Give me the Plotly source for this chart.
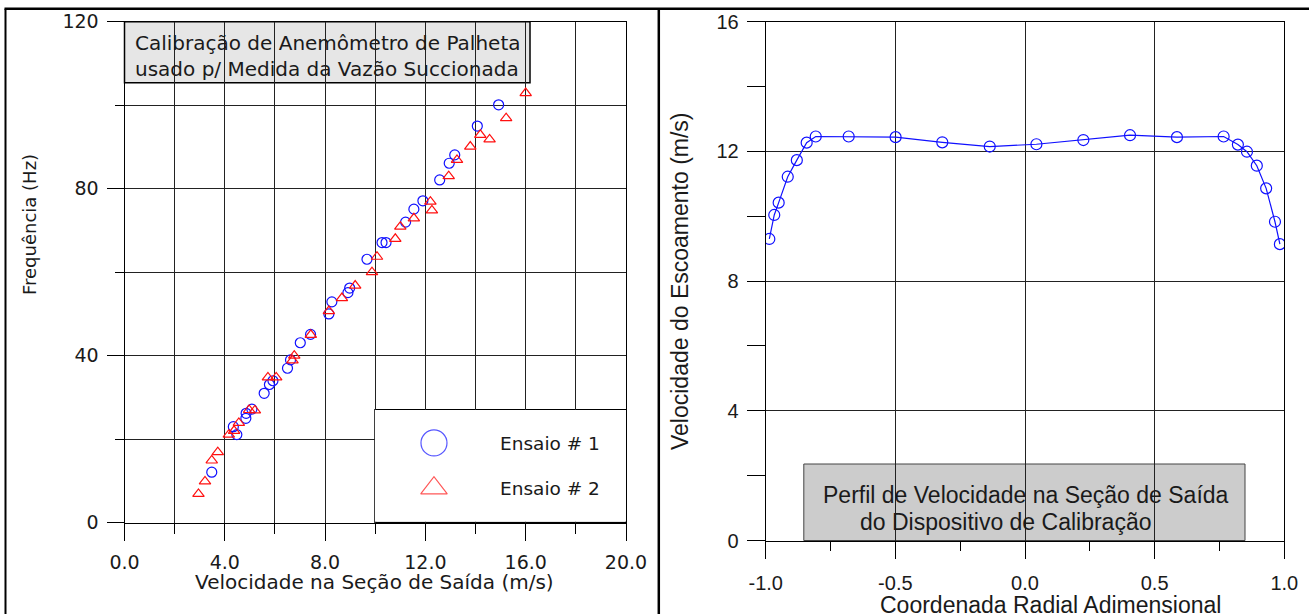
import plotly.graph_objects as go

# ---------------- data ----------------
# Left panel: calibration (Velocidade m/s -> Frequencia Hz)
ens1_vel = [3.48, 4.34, 4.48, 4.84, 4.85, 5.08, 5.57, 5.78, 5.92, 6.50, 6.62, 7.01, 7.42,
            8.15, 8.27, 8.91, 8.98, 9.67, 10.27, 10.43, 11.21, 11.54, 11.90, 12.57, 12.95,
            13.17, 14.07, 14.92]
ens1_freq = [12.1, 23.0, 21.1, 25.0, 26.2, 27.2, 31.0, 33.1, 34.0, 37.0, 39.0, 43.1, 45.1,
             50.0, 52.9, 55.1, 56.2, 63.1, 67.1, 67.1, 72.0, 75.1, 77.1, 82.1, 86.1,
             88.1, 95.0, 100.1]
ens2_vel = [2.95, 3.21, 3.48, 3.72, 4.16, 4.37, 4.56, 4.97, 5.20, 5.72, 6.05, 6.70, 6.77,
            7.43, 8.15, 8.67, 9.20, 9.87, 10.07, 10.80, 11.00, 11.54, 12.20, 12.26, 12.93,
            13.26, 13.79, 14.19, 14.56, 15.22, 16.00]
ens2_freq = [6.9, 9.9, 14.9, 16.9, 21.1, 22.0, 23.9, 27.0, 26.9, 34.8, 34.8, 38.9, 40.0,
             45.0, 50.7, 53.8, 56.8, 60.0, 63.7, 68.0, 70.9, 72.9, 76.9, 74.8, 83.0,
             86.9, 90.1, 92.9, 91.8, 96.9, 102.9]

# Right panel: velocity profile
radial = [-0.986, -0.967, -0.950, -0.915, -0.880, -0.842, -0.807, -0.680, -0.499, -0.319,
          -0.136, 0.044, 0.225, 0.405, 0.586, 0.766, 0.821, 0.856, 0.894, 0.930, 0.964, 0.983]
veloc = [9.30, 10.04, 10.42, 11.22, 11.73, 12.27, 12.46, 12.46, 12.44, 12.28,
         12.15, 12.22, 12.35, 12.50, 12.44, 12.46, 12.21, 11.99, 11.56, 10.86, 9.83, 9.14]

# Tick labels
left_x_ticks = [0, 4, 8, 12, 16, 20]
left_x_labels = ["0.0", "4.0", "8.0", "12.0", "16.0", "20.0"]
left_y_ticks = [0, 40, 80, 120]
left_y_labels = ["0", "40", "80", "120"]
right_x_ticks = [-1, -0.5, 0, 0.5, 1]
right_x_labels = ["-1.0", "-0.5", "0.0", "0.5", "1.0"]
right_x_minor = [-0.75, -0.25, 0.25, 0.75]
right_y_ticks = [0, 4, 8, 12, 16]
right_y_labels = ["0", "4", "8", "12", "16"]
right_y_minor = [2, 6, 10, 14]

legend_names = ["Ensaio # 1", "Ensaio # 2"]

# ---------------- layout geometry ----------------
W, H = 1309, 614
def px(x):
    return x / W
def py(y):
    return 1 - y / H

LF = "DejaVu Sans"
RF = "Liberation Sans"
TXT = "#1a1a1a"
BLUE = "#1010ff"
RED = "#ff1010"
GRID = "#222222"

L_dom_x = [px(124.5), px(626.0)]
L_dom_y = [py(522.7), py(21.7)]
R_dom_x = [px(765.7), px(1284.3)]
R_dom_y = [py(540.5), py(21.7)]

fig = go.Figure()

# left data
fig.add_trace(go.Scatter(x=ens1_vel, y=ens1_freq, mode="markers", xaxis="x", yaxis="y",
                         marker=dict(symbol="circle-open", size=10, color=BLUE, line=dict(width=1.2)),
                         showlegend=False))
fig.add_trace(go.Scatter(x=ens2_vel, y=ens2_freq, mode="markers", xaxis="x", yaxis="y",
                         marker=dict(symbol="triangle-up-open", size=10, color=RED, line=dict(width=1.2)),
                         showlegend=False))
# right data
fig.add_trace(go.Scatter(x=radial, y=veloc, mode="lines+markers", xaxis="x2", yaxis="y2",
                         line=dict(color=BLUE, width=1.2),
                         marker=dict(symbol="circle-open", size=11, color=BLUE, line=dict(width=1.2)),
                         showlegend=False))

# legend key glyphs (on an invisible overlay axis spanning the legend box)
fig.add_trace(go.Scatter(x=[0.235, 0.235], y=[0.705, 0.30], mode="markers", xaxis="x3", yaxis="y3",
                         marker=dict(symbol=["circle-open", "triangle-up-open"], size=[26, 23],
                                     color=[BLUE, RED], line=dict(width=1.2)),
                         showlegend=False, hoverinfo="skip"))

axis_common = dict(showline=True, linecolor="black", linewidth=1, mirror=True,
                   zeroline=False, showgrid=True, gridcolor=GRID, gridwidth=1,
                   ticks="outside", tickcolor="black", tickwidth=1, automargin=False)

fig.update_layout(
    template="none",
    width=W, height=H, autosize=False,
    margin=dict(l=0, r=0, t=0, b=0, pad=0, autoexpand=False),
    paper_bgcolor="white", plot_bgcolor="white",
    showlegend=False,
    xaxis=dict(domain=L_dom_x, anchor="y", range=[0, 20], tickmode="array",
               tickvals=left_x_ticks, ticktext=left_x_labels, ticklen=17,
               ticklabelstandoff=5,
               tickfont=dict(family=LF, size=19, color=TXT),
               minor=dict(dtick=2, tick0=0, ticklen=10, ticks="outside", tickcolor="black",
                          showgrid=True, gridcolor=GRID, gridwidth=1),
               **axis_common),
    yaxis=dict(domain=L_dom_y, anchor="x", range=[0, 120], tickmode="array",
               tickvals=left_y_ticks, ticktext=left_y_labels, ticklen=17,
               ticklabelstandoff=4,
               tickfont=dict(family=LF, size=19, color=TXT),
               minor=dict(dtick=20, tick0=0, ticklen=9, ticks="outside", tickcolor="black",
                          showgrid=True, gridcolor=GRID, gridwidth=1),
               **axis_common),
    xaxis2=dict(domain=R_dom_x, anchor="y2", range=[-1, 1], tickmode="array",
                tickvals=right_x_ticks, ticktext=right_x_labels, ticklen=17,
                ticklabelstandoff=7,
                tickfont=dict(family=RF, size=20, color=TXT),
                minor=dict(tickmode="array", tickvals=right_x_minor, ticklen=9, ticks="outside",
                           tickcolor="black", showgrid=False),
                **axis_common),
    yaxis2=dict(domain=R_dom_y, anchor="x2", range=[0, 16], tickmode="array",
                tickvals=right_y_ticks, ticktext=right_y_labels, ticklen=18,
                ticklabelstandoff=4,
                tickfont=dict(family=RF, size=20, color=TXT),
                minor=dict(tickmode="array", tickvals=right_y_minor, ticklen=18, ticks="outside",
                           tickcolor="black", showgrid=False),
                **axis_common),
    xaxis3=dict(domain=[px(375), px(626)], anchor="y3", range=[0, 1], visible=False,
                fixedrange=True, automargin=False),
    yaxis3=dict(domain=[py(521.7), py(410)], anchor="x3", range=[0, 1], visible=False,
                fixedrange=True, automargin=False),
)

shapes = []
# left title box
shapes.append(dict(type="rect", xref="x domain", yref="y domain", x0=0, x1=(530 - 124.5) / 501.5,
                   y0=(522.7 - 82.7) / 501.0, y1=1.0, layer="below",
                   fillcolor="#e6e6e6", line=dict(color="black", width=1.5)))
# legend box
shapes.append(dict(type="rect", xref="x domain", yref="y domain", x0=0.5, x1=1.0,
                   y0=0.0, y1=(522.7 - 410) / 501.0, layer="below",
                   fillcolor="#e6e6e6", line=dict(color="black", width=2)))
# right label box
shapes.append(dict(type="rect", xref="x2 domain", yref="y2 domain", x0=(803.8 - 765.7) / 518.6,
                   x1=(1245 - 765.7) / 518.6, y0=0.0, y1=(540.5 - 464) / 518.8, layer="below",
                   fillcolor="#cccccc", line=dict(color="#444444", width=1)))
# outer frame lines
shapes.append(dict(type="line", xref="paper", yref="paper", x0=px(4.5), x1=1.0,
                   y0=py(8.7), y1=py(8.7), line=dict(color="black", width=2.5)))
shapes.append(dict(type="line", xref="paper", yref="paper", x0=px(5.5), x1=px(5.5),
                   y0=0, y1=py(8.7), line=dict(color="black", width=2)))
shapes.append(dict(type="line", xref="paper", yref="paper", x0=px(658.8), x1=px(658.8),
                   y0=0, y1=py(8.7), line=dict(color="black", width=2.5)))
fig.update_layout(shapes=shapes)

ann = []
def A(text, x, y, family, size, xanchor="center", yanchor="middle", angle=0, align="center"):
    ann.append(dict(text=text, x=px(x), y=py(y), xref="paper", yref="paper", showarrow=False,
                    xanchor=xanchor, yanchor=yanchor, textangle=angle, align=align,
                    font=dict(family=family, size=size, color=TXT)))

# left axis titles
A("Velocidade na Seção de Saída (m/s)", 374.5, 582, LF, 20)
A("Frequência (Hz)", 30, 225, LF, 18, angle=-90)
# left title box text
A("Calibração de Anemômetro de Palheta<br>usado p/ Medida da Vazão Succionada",
  133, 56, LF, 20, xanchor="left", align="left")
# legend text
A(legend_names[0], 498, 443.5, LF, 18.5, xanchor="left")
A(legend_names[1], 498, 488, LF, 18.5, xanchor="left")
# right axis titles
A("Velocidade do Escoamento (m/s)", 680, 281, RF, 23, angle=-90)
A("Coordenada Radial Adimensional", 1050, 605, RF, 23)
# right box text
A("Perfil de Velocidade na Seção de Saída", 821, 495, RF, 23, xanchor="left")
A("do Dispositivo de Calibração", 858, 522, RF, 23, xanchor="left")
fig.update_layout(annotations=ann)

fig.write_html("out.html")
